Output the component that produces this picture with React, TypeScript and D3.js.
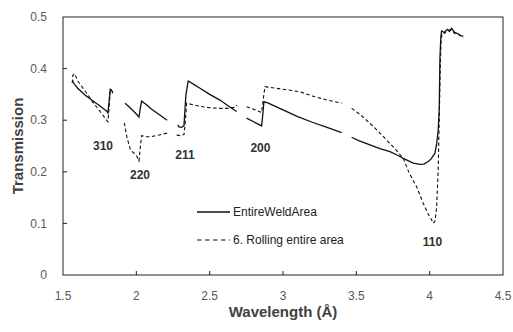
import React from "react";
import * as d3 from "d3";

// wavelength (Å) / transmission pairs, one array per measured segment
const weldSegments: [number, number][][] = [
  [[1.565, 0.378], [1.57, 0.373], [1.6, 0.362], [1.65, 0.349], [1.7, 0.338], [1.75, 0.328], [1.8, 0.317], [1.806, 0.314], [1.814, 0.335], [1.822, 0.36], [1.83, 0.359], [1.84, 0.352]],
  [[1.923, 0.333], [1.95, 0.326], [2.0, 0.312], [2.018, 0.306], [2.028, 0.325], [2.036, 0.337], [2.07, 0.33], [2.1, 0.322], [2.15, 0.312], [2.21, 0.3]],
  [[2.283, 0.291], [2.29, 0.287], [2.31, 0.286], [2.325, 0.29], [2.338, 0.349], [2.354, 0.376], [2.4, 0.368], [2.434, 0.362], [2.5, 0.35], [2.57, 0.339], [2.63, 0.327], [2.684, 0.317]],
  [[2.752, 0.304], [2.8, 0.297], [2.854, 0.289], [2.862, 0.31], [2.87, 0.336], [2.9, 0.333], [3.0, 0.32], [3.1, 0.307], [3.2, 0.296], [3.3, 0.286], [3.4, 0.276]],
  [[3.468, 0.267], [3.52, 0.26], [3.593, 0.252], [3.661, 0.245], [3.729, 0.239], [3.775, 0.233], [3.82, 0.226], [3.888, 0.217], [3.934, 0.2145], [3.96, 0.215], [3.99, 0.22], [4.01, 0.225], [4.036, 0.236], [4.048, 0.255], [4.058, 0.28], [4.065, 0.32], [4.07, 0.42], [4.076, 0.46], [4.081, 0.473], [4.1, 0.47], [4.12, 0.476], [4.135, 0.472], [4.15, 0.478], [4.17, 0.47], [4.19, 0.468], [4.21, 0.464], [4.229, 0.463]],
];

const rollingSegments: [number, number][][] = [
  [[1.563, 0.372], [1.567, 0.387], [1.58, 0.39], [1.6, 0.376], [1.65, 0.357], [1.684, 0.343], [1.7, 0.336], [1.75, 0.318], [1.8, 0.299], [1.806, 0.297], [1.814, 0.322], [1.822, 0.357], [1.84, 0.354]],
  [[1.918, 0.295], [1.935, 0.268], [1.96, 0.242], [2.0, 0.232], [2.018, 0.221], [2.028, 0.25], [2.036, 0.27], [2.07, 0.268], [2.1, 0.268], [2.15, 0.271], [2.21, 0.275]],
  [[2.275, 0.271], [2.3, 0.27], [2.325, 0.272], [2.335, 0.3], [2.343, 0.333], [2.4, 0.329], [2.456, 0.326], [2.5, 0.324], [2.57, 0.323], [2.62, 0.323], [2.672, 0.325], [2.686, 0.329]],
  [[2.752, 0.326], [2.8, 0.321], [2.854, 0.315], [2.865, 0.34], [2.877, 0.365], [2.95, 0.362], [3.05, 0.358], [3.116, 0.355], [3.2, 0.347], [3.3, 0.339], [3.4, 0.333]],
  [[3.468, 0.323], [3.53, 0.31], [3.593, 0.294], [3.661, 0.275], [3.729, 0.255], [3.775, 0.241], [3.82, 0.226], [3.86, 0.198], [3.911, 0.171], [3.956, 0.139], [3.99, 0.118], [4.013, 0.107], [4.024, 0.1], [4.036, 0.104], [4.047, 0.13], [4.058, 0.203], [4.065, 0.3], [4.072, 0.4], [4.078, 0.455], [4.085, 0.468], [4.1, 0.468], [4.12, 0.474], [4.15, 0.476], [4.17, 0.468], [4.2, 0.466], [4.229, 0.46]],
];

const peakLabels: { hkl: string; x: number; y: number }[] = [
  { hkl: "310", x: 1.773, y: 0.25 },
  { hkl: "220", x: 2.025, y: 0.194 },
  { hkl: "211", x: 2.332, y: 0.2326 },
  { hkl: "200", x: 2.846, y: 0.246 },
  { hkl: "110", x: 4.019, y: 0.065 },
];

const xTicks = [1.5, 2, 2.5, 3, 3.5, 4, 4.5];
const yTicks = [0, 0.1, 0.2, 0.3, 0.4, 0.5];
const seriesNames = ["EntireWeldArea", "6. Rolling entire area"];

const W = 513;
const H = 332;
const left = 63, right = 503, top = 17, bottom = 275;

export default function App() {
  const x = d3.scaleLinear().domain([1.5, 4.5]).range([left, right]);
  const y = d3.scaleLinear().domain([0, 0.5]).range([bottom, top]);
  const line = d3.line<[number, number]>().x(d => x(d[0])).y(d => y(d[1]));
  const font = "'Liberation Sans', Arial, sans-serif";

  return (
    <svg width={W} height={H} style={{ position: "absolute", left: 0, top: 0, background: "#fff" }} fontFamily={font}>
      <rect x={left} y={top} width={right - left} height={bottom - top} fill="none" stroke="#222" strokeWidth={1} />
      {xTicks.map(t => (
        <g key={"x" + t}>
          {t > 1.5 && t < 4.5 && <line x1={x(t)} x2={x(t)} y1={bottom} y2={bottom - 4} stroke="#222" />}
          <text x={x(t)} y={296} dy="0.35em" textAnchor="middle" fontSize={12} fill="#595959">{t}</text>
        </g>
      ))}
      {yTicks.map(t => (
        <g key={"y" + t}>
          {t > 0 && t < 0.5 && <line x1={left} x2={left + 4} y1={y(t)} y2={y(t)} stroke="#222" />}
          <text x={47} y={y(t)} dy="0.35em" textAnchor="end" fontSize={12} fill="#595959">{t}</text>
        </g>
      ))}
      {weldSegments.map((s, i) => (
        <path key={"w" + i} d={line(s) ?? ""} fill="none" stroke="#111" strokeWidth={1.3} />
      ))}
      {rollingSegments.map((s, i) => (
        <path key={"r" + i} d={line(s) ?? ""} fill="none" stroke="#111" strokeWidth={1.1} strokeDasharray="3.5,2.5" />
      ))}
      {peakLabels.map(p => (
        <text key={p.hkl} x={x(p.x)} y={y(p.y)} dy="0.35em" textAnchor="middle" fontSize={12} fontWeight="bold" fill="#333">{p.hkl}</text>
      ))}
      <line x1={197} x2={230} y1={212} y2={212} stroke="#111" strokeWidth={1.3} />
      <text x={233} y={212} dy="0.35em" fontSize={12} fill="#222">{seriesNames[0]}</text>
      <line x1={197} x2={230} y1={240} y2={240} stroke="#111" strokeWidth={1.2} strokeDasharray="4.5,3.5" />
      <text x={233} y={240} dy="0.35em" fontSize={12} fill="#222">{seriesNames[1]}</text>
      <text x={(left + right) / 2} y={312} dy="0.35em" textAnchor="middle" fontSize={15} fontWeight="bold" fill="#404040">Wavelength (Å)</text>
      <text transform={`translate(18,${(top + bottom) / 2}) rotate(-90)`} dy="0.35em" textAnchor="middle" fontSize={15} fontWeight="bold" fill="#404040">Transmission</text>
    </svg>
  );
}
